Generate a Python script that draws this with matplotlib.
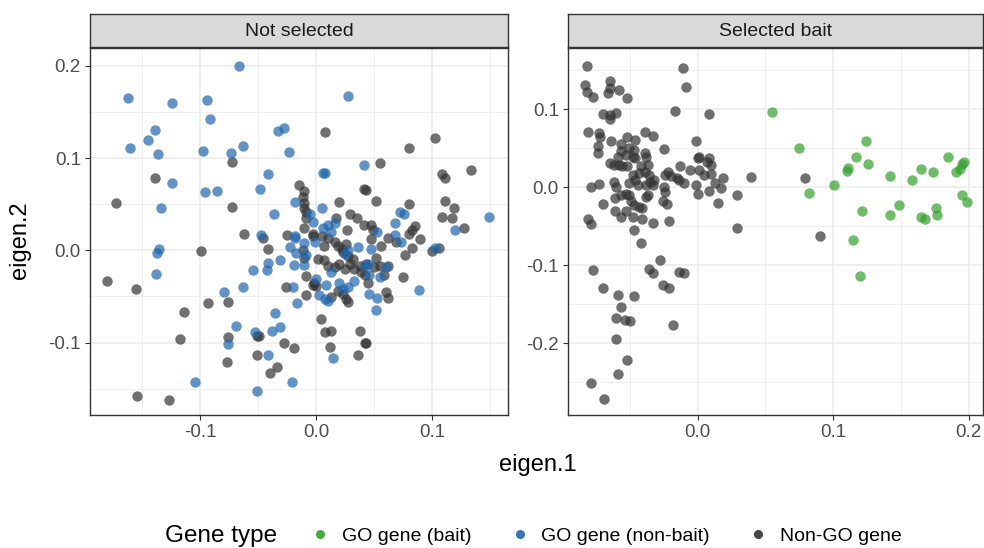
import numpy as np
import matplotlib
matplotlib.use("Agg")
import matplotlib.pyplot as plt
from matplotlib.lines import Line2D

plt.rcParams["font.family"] = ["Liberation Sans", "DejaVu Sans"]
plt.rcParams["axes.unicode_minus"] = False

# (eigen.1, eigen.2) per gene, read off the reference
# panel "Not selected"
ns_go_nonbait = np.array([
    (-0.162, 0.165), (-0.124, 0.160), (-0.094, 0.163), (-0.091, 0.142), (-0.139, 0.131),
    (-0.145, 0.120), (-0.160, 0.111), (-0.136, 0.104), (-0.097, 0.108), (-0.073, 0.106),
    (-0.124, 0.073), (-0.096, 0.063), (-0.085, 0.064), (-0.134, 0.046),
    (-0.066, 0.200), (0.028, 0.167), (-0.028, 0.133), (-0.033, 0.129), (-0.063, 0.113),
    (-0.023, 0.107), (0.041, 0.093), (0.006, 0.084), (0.008, 0.084), (-0.041, 0.083),
    (-0.048, 0.066), (-0.018, 0.052), (0.005, 0.046), (-0.036, 0.039), (-0.005, 0.039),
    (-0.003, 0.031), (0.006, 0.024), (0.010, 0.027), (0.016, 0.030), (0.013, 0.020),
    (-0.047, 0.017), (-0.018, 0.015),
    (0.072, 0.042), (0.076, 0.039), (0.068, 0.030), (0.149, 0.036), (0.120, 0.022),
    (0.053, 0.020), (0.068, 0.017),
    (-0.135, 0.001), (-0.137, -0.003), (-0.138, -0.026), (-0.079, -0.045), (-0.076, -0.102),
    (-0.104, -0.143),
    (-0.018, 0.013), (-0.010, 0.008), (-0.022, 0.004), (-0.017, -0.003), (-0.019, -0.016),
    (-0.010, -0.016), (-0.009, -0.005), (-0.001, 0.009), (0.025, -0.004), (0.028, 0.000),
    (0.036, 0.004), (0.013, -0.024), (0.020, -0.035), (0.023, -0.042), (0.028, -0.040),
    (0.033, -0.033), (0.042, -0.017), (0.000, -0.031), (-0.020, -0.040), (0.003, -0.049),
    (0.009, -0.038), (0.010, -0.055), (0.0075, -0.053), (-0.054, -0.021), (-0.042, -0.021),
    (-0.041, -0.014), (-0.031, -0.011), (-0.063, -0.040), (-0.016, -0.057), (-0.035, -0.068),
    (-0.069, -0.082), (-0.038, -0.087), (-0.031, -0.083), (-0.053, -0.089), (-0.041, -0.113),
    (0.015, -0.117), (-0.021, -0.143), (-0.051, -0.153),
    (0.073, 0.009), (0.103, 0.003), (0.047, 0.001), (0.045, -0.015), (0.046, -0.027),
    (0.055, -0.029), (0.060, -0.018), (0.046, -0.047), (0.053, -0.052), (0.052, -0.065),
    (0.089, -0.043),
])

ns_non_go = np.array([
    (-0.139, 0.078), (-0.172, 0.051), (-0.072, 0.096), (-0.072, 0.047),
    (0.0075, 0.128), (-0.015, 0.071), (-0.010, 0.064), (-0.011, 0.058), (-0.010, 0.051),
    (-0.010, 0.046), (-0.009, 0.042), (0.020, 0.052), (0.041, 0.066), (-0.009, 0.035),
    (0.017, 0.035), (0.029, 0.039), (0.035, 0.035), (0.027, 0.022), (0.041, 0.027),
    (-0.010, 0.024), (-0.062, 0.018), (-0.025, 0.017), (-0.003, 0.018),
    (0.103, 0.122), (0.080, 0.111), (0.055, 0.095), (0.109, 0.083), (0.111, 0.078),
    (0.134, 0.087), (0.043, 0.065), (0.052, 0.053), (0.080, 0.050), (0.111, 0.053),
    (0.119, 0.046), (0.109, 0.036), (0.117, 0.035), (0.128, 0.024), (0.047, 0.027),
    (0.049, 0.022), (0.085, 0.026), (0.083, 0.022), (0.080, 0.018), (0.062, 0.013),
    (0.090, 0.012),
    (-0.099, -0.001), (-0.180, -0.033), (-0.155, -0.042), (-0.093, -0.057), (-0.076, -0.056),
    (-0.114, -0.067), (-0.117, -0.096), (-0.076, -0.094), (-0.077, -0.121), (-0.154, -0.158),
    (-0.127, -0.162),
    (-0.046, 0.013), (-0.041, 0.001), (-0.011, 0.000), (-0.010, -0.008), (-0.003, 0.016),
    (0.005, 0.015), (0.007, 0.005), (0.010, 0.013), (0.016, 0.009), (0.019, 0.005),
    (0.022, 0.001), (0.026, 0.007), (0.023, -0.002), (0.028, -0.006), (0.032, -0.009),
    (0.002, -0.009), (0.007, -0.011), (0.010, -0.017), (0.016, -0.018), (0.020, -0.015),
    (0.025, -0.020), (0.029, -0.015), (0.033, -0.020), (0.038, -0.017), (0.039, -0.024),
    (0.042, -0.027), (-0.009, -0.028), (-0.002, -0.035), (0.000, -0.039), (-0.003, -0.038),
    (-0.026, -0.040), (-0.009, -0.048), (0.013, -0.051), (0.019, -0.044), (0.026, -0.053),
    (0.028, -0.056), (0.023, -0.047), (0.004, -0.075), (-0.051, -0.093), (-0.049, -0.093),
    (0.0075, -0.089), (0.013, -0.087), (0.038, -0.087), (0.042, -0.101), (-0.028, -0.101),
    (-0.019, -0.106), (0.012, -0.105), (-0.051, -0.113), (0.036, -0.114), (-0.034, -0.127),
    (-0.040, -0.133),
    (0.047, 0.012), (0.056, 0.005), (0.069, 0.009), (0.083, 0.002), (0.077, -0.005),
    (0.100, -0.001), (0.106, 0.003), (0.052, -0.008), (0.055, -0.017), (0.062, -0.017),
    (0.050, -0.018), (0.043, -0.015), (0.059, -0.027), (0.075, -0.029), (0.045, -0.035),
    (0.060, -0.045), (0.062, -0.052), (0.043, -0.101),
])

# panel "Selected bait"
sb_non_go = np.array([
    (-0.082, 0.156), (-0.083, 0.131), (-0.082, 0.122), (-0.077, 0.116), (-0.065, 0.136),
    (-0.066, 0.121), (-0.065, 0.127), (-0.058, 0.125), (-0.052, 0.114), (-0.070, 0.094),
    (-0.065, 0.088), (-0.065, 0.093), (-0.060, 0.095), (-0.017, 0.098), (-0.081, 0.071),
    (-0.073, 0.069), (-0.072, 0.064), (-0.074, 0.053), (-0.074, 0.044), (-0.064, 0.060),
    (-0.057, 0.056), (-0.052, 0.065), (-0.046, 0.061), (-0.039, 0.071), (-0.033, 0.066),
    (-0.025, 0.049),
    (-0.059, 0.039), (-0.057, 0.046), (-0.053, 0.041), (-0.051, 0.050), (-0.047, 0.048),
    (-0.048, 0.039), (-0.046, 0.037), (-0.039, 0.044), (-0.038, 0.039), (-0.037, 0.029),
    (-0.058, 0.029), (-0.056, 0.027), (-0.065, 0.031), (-0.062, 0.028), (-0.052, 0.027),
    (-0.042, 0.027), (-0.043, 0.018), (-0.039, 0.020), (-0.036, 0.016), (-0.035, 0.007),
    (-0.048, 0.016), (-0.051, 0.005), (-0.046, 0.009), (-0.044, 0.003), (-0.038, 0.003),
    (-0.033, 0.003), (-0.032, 0.009), (-0.022, 0.020), (-0.024, 0.016), (-0.020, 0.014),
    (-0.015, 0.012),
    (-0.079, 0.000), (-0.073, 0.004), (-0.070, -0.021),
    (-0.062, 0.007), (-0.060, 0.000), (-0.061, -0.014), (-0.057, -0.010), (-0.053, -0.008),
    (-0.051, -0.010), (-0.049, -0.018), (-0.047, -0.023), (-0.043, -0.025), (-0.041, -0.027),
    (-0.038, -0.012), (-0.037, -0.010), (-0.025, 0.001), (-0.024, -0.006), (-0.026, -0.018),
    (-0.023, -0.021),
    (-0.081, -0.041), (-0.079, -0.047), (-0.061, -0.030), (-0.057, -0.038), (-0.053, -0.031),
    (-0.048, -0.038), (-0.041, -0.040), (-0.033, -0.046), (-0.021, -0.043), (-0.047, -0.055),
    (-0.011, 0.153), (-0.009, 0.128), (0.008, 0.094), (-0.001, 0.059), (0.001, 0.039),
    (0.000, 0.037), (0.008, 0.037), (0.010, 0.029), (0.007, 0.033), (-0.013, 0.027),
    (-0.006, 0.022), (0.001, 0.022), (0.005, 0.016), (0.010, 0.017), (-0.014, 0.009),
    (-0.010, 0.006), (-0.001, 0.003), (0.013, 0.006), (0.019, 0.012), (0.039, 0.013),
    (0.000, -0.009), (0.008, -0.005), (0.017, -0.001), (0.029, -0.010), (0.015, -0.020),
    (0.029, -0.052),
    (0.079, 0.012), (0.090, -0.062),
    (-0.042, -0.072), (-0.028, -0.093), (-0.077, -0.106), (-0.036, -0.105), (-0.033, -0.110),
    (-0.014, -0.108), (-0.010, -0.110), (-0.070, -0.129), (-0.026, -0.125), (-0.021, -0.129),
    (-0.059, -0.138), (-0.047, -0.139), (-0.057, -0.154), (-0.060, -0.168), (-0.054, -0.170),
    (-0.050, -0.171), (-0.018, -0.177), (-0.060, -0.194), (-0.052, -0.222), (-0.059, -0.239),
    (-0.079, -0.251), (-0.069, -0.272),
])

sb_go_bait = np.array([
    (0.055, 0.097), (0.075, 0.051), (0.082, -0.007), (0.101, 0.003), (0.110, 0.021),
    (0.111, 0.025), (0.117, 0.039), (0.124, 0.059), (0.126, 0.030), (0.121, -0.030),
    (0.115, -0.067), (0.120, -0.114), (0.142, 0.015), (0.142, -0.035), (0.149, -0.023),
    (0.158, 0.010), (0.165, 0.024), (0.174, 0.019), (0.165, -0.038), (0.168, -0.041),
    (0.176, -0.027), (0.177, -0.035), (0.185, 0.039), (0.191, 0.019), (0.194, 0.024),
    (0.195, 0.030), (0.197, 0.032), (0.195, -0.010), (0.199, -0.019),
])

type_labels = ["GO gene (bait)", "GO gene (non-bait)", "Non-GO gene"]
type_colors = ["#33A02C", "#2166AC", "#333333"]
facet_titles = ["Not selected", "Selected bait"]

W, H = 984, 548
fig = plt.figure(figsize=(W / 100, H / 100), dpi=100)


def box(x0, y0, x1, y1):
    # pixel box (top-left origin) -> figure fraction rect
    return [x0 / W, 1 - y1 / H, (x1 - x0) / W, (y1 - y0) / H]


ax_l = fig.add_axes(box(90, 48, 508, 415))
ax_r = fig.add_axes(box(568, 48, 983, 415))
st_l = fig.add_axes(box(90, 14, 508, 47))
st_r = fig.add_axes(box(568, 14, 983, 47))

pt = dict(s=56, alpha=0.7, linewidths=0, zorder=3)
ax_l.scatter(ns_non_go[:, 0], ns_non_go[:, 1], color=type_colors[2], **pt)
ax_l.scatter(ns_go_nonbait[:, 0], ns_go_nonbait[:, 1], color=type_colors[1], **pt)
ax_r.scatter(sb_non_go[:, 0], sb_non_go[:, 1], color=type_colors[2], **pt)
ax_r.scatter(sb_go_bait[:, 0], sb_go_bait[:, 1], color=type_colors[0], **pt)

ax_l.set_xlim(-0.1948, 0.1655)
ax_l.set_ylim(-0.1786, 0.2194)
ax_l.set_xticks([-0.1, 0.0, 0.1])
ax_l.set_xticks([-0.15, -0.05, 0.05, 0.15], minor=True)
ax_l.set_yticks([-0.1, 0.0, 0.1, 0.2])
ax_l.set_yticks([-0.15, -0.05, 0.05, 0.15], minor=True)

ax_r.set_xlim(-0.0958, 0.2107)
ax_r.set_ylim(-0.2919, 0.1786)
ax_r.set_xticks([0.0, 0.1, 0.2])
ax_r.set_xticks([-0.05, 0.05, 0.15], minor=True)
ax_r.set_yticks([-0.2, -0.1, 0.0, 0.1])
ax_r.set_yticks([-0.25, -0.15, -0.05, 0.05, 0.15], minor=True)

for ax in (ax_l, ax_r):
    ax.xaxis.set_major_formatter(matplotlib.ticker.FormatStrFormatter("%.1f"))
    ax.yaxis.set_major_formatter(matplotlib.ticker.FormatStrFormatter("%.1f"))
    ax.grid(which="major", color="#EBEBEB", linewidth=1.1, zorder=0)
    ax.grid(which="minor", color="#EBEBEB", linewidth=0.55, zorder=0)
    ax.set_axisbelow(True)
    ax.tick_params(which="major", length=3.5, width=0.8, color="#333333",
                   labelsize=13.5, labelcolor="#4D4D4D", pad=3)
    ax.tick_params(which="minor", length=0)
    for sp in ax.spines.values():
        sp.set_color("#333333")
        sp.set_linewidth(1.0)
        sp.set_zorder(5)

for st, title in zip((st_l, st_r), facet_titles):
    st.set_facecolor("#D9D9D9")
    st.set_xticks([])
    st.set_yticks([])
    for sp in st.spines.values():
        sp.set_color("#333333")
        sp.set_linewidth(1.0)
    st.text(0.5, 0.47, title, ha="center", va="center", fontsize=14,
            color="#1A1A1A", transform=st.transAxes)

fig.text(538 / W, 1 - 465 / H, "eigen.1", ha="center", va="center", fontsize=17)
fig.text(20 / W, 1 - 240 / H, "eigen.2", ha="center", va="center", fontsize=17,
         rotation=90)

fig.text(165 / W, 1 - 536 / H, "Gene type", ha="left", va="center", fontsize=17.5)
handles = [Line2D([], [], marker="o", linestyle="", markersize=6.5, color=c,
                  markeredgewidth=0, alpha=0.9, label=l)
           for c, l in zip(type_colors, type_labels)]
fig.legend(handles=handles, loc="center", ncol=3, frameon=False,
           bbox_to_anchor=(606 / W, 1 - 536 / H), fontsize=14,
           handletextpad=0.6, columnspacing=2.0, handlelength=1.0)

fig.savefig("out.png", dpi=100)
